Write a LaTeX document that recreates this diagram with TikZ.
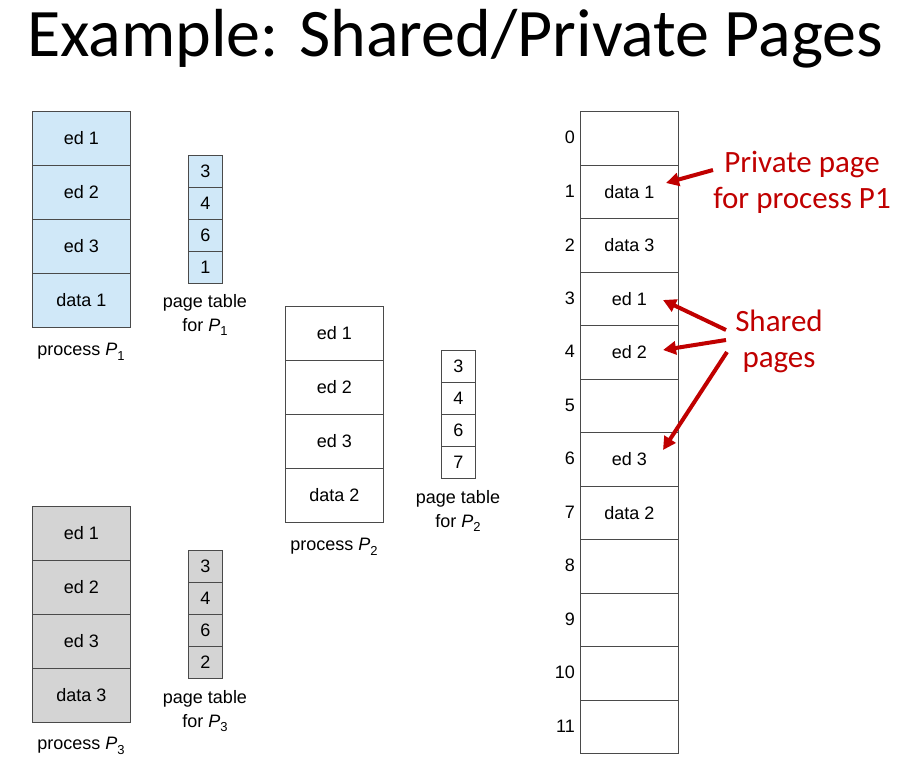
\documentclass[tikz,border=0pt]{standalone}
\usepackage{fontspec}
\setmainfont{Liberation Sans}
\newfontfamily\headfont{Carlito}
\usetikzlibrary{arrows.meta}

\definecolor{procblue}{HTML}{D0E8F8}
\definecolor{procgray}{HTML}{D4D4D4}
\definecolor{framegray}{HTML}{4A4A4A}
\definecolor{noteRed}{HTML}{C00000}

% italic process name with a lowered index, as in the figure
\newcommand{\procname}[1]{\textit{P}\raisebox{-0.5ex}{\fontsize{13}{14}\selectfont #1}}

\begin{document}
\begin{tikzpicture}[x=1pt,y=-1pt,
  pagecell/.style={draw=framegray, line width=0.8pt, minimum width=98pt,
    minimum height=54pt, inner sep=0pt, anchor=north west,
    font=\fontsize{18}{20}\selectfont},
  tabcell/.style={draw=framegray, line width=0.8pt, minimum width=34pt,
    minimum height=32pt, inner sep=0pt, anchor=north west,
    font=\fontsize{18}{20}\selectfont},
  framecell/.style={draw=framegray, line width=0.8pt, minimum width=98pt,
    minimum height=53.5pt, inner sep=0pt, anchor=north west,
    font=\fontsize{18}{20}\selectfont},
  framenum/.style={anchor=east, inner sep=0pt, font=\fontsize{18}{20}\selectfont},
  caption/.style={align=center, inner sep=0pt, font=\fontsize{18}{24}\selectfont},
  note/.style={anchor=base, inner sep=0pt, text=noteRed,
    font=\headfont\fontsize{31}{36}\selectfont},
  pointer/.style={draw=noteRed, line width=4pt,
    -{Triangle[length=13pt,width=13pt]}}
]
\useasboundingbox (0,0) rectangle (902,765);

% heading
\node[anchor=base west, inner sep=0pt, font=\headfont\fontsize{68}{80}\selectfont]
  (title) at (27,57) {Example: Shared/Private Pages};

% process P1 and its page table
\foreach \t [count=\i from 0] in {ed 1, ed 2, ed 3, data 1}
  \node[pagecell, fill=procblue] (pa\i) at (32,111+54*\i) {\t};
\node[caption] (pacap) at (81,352) {process \procname{1}};
\foreach \t [count=\i from 0] in {3,4,6,1}
  \node[tabcell, fill=procblue] (ta\i) at (188,155+32*\i) {\t};
\node[caption] (tacap) at (205,315) {page table\\for \procname{1}};

% process P2 and its page table
\foreach \t [count=\i from 0] in {ed 1, ed 2, ed 3, data 2}
  \node[pagecell, fill=white] (pb\i) at (285,306+54*\i) {\t};
\node[caption] (pbcap) at (334,547) {process \procname{2}};
\foreach \t [count=\i from 0] in {3,4,6,7}
  \node[tabcell, fill=white] (tb\i) at (441,350+32*\i) {\t};
\node[caption] (tbcap) at (458,511) {page table\\for \procname{2}};

% process P3 and its page table
\foreach \t [count=\i from 0] in {ed 1, ed 2, ed 3, data 3}
  \node[pagecell, fill=procgray] (pc\i) at (32,506+54*\i) {\t};
\node[caption] (pccap) at (81,746) {process \procname{3}};
\foreach \t [count=\i from 0] in {3,4,6,2}
  \node[tabcell, fill=procgray] (tc\i) at (188,550+32*\i) {\t};
\node[caption] (tccap) at (205,711) {page table\\for \procname{3}};

% physical memory frames
\foreach \t [count=\i from 0] in {{}, data 1, data 3, ed 1, ed 2, {}, ed 3, data 2, {}, {}, {}, {}} {
  \node[framecell] (f\i) at (580,111+53.5*\i) {\t};
  \node[framenum] (n\i) at (575,111+53.5*\i+26.75) {\i};
}

% annotations
\node[note] (privA) at (802,172) {Private page};
\node[note] (privB) at (802,208) {for process P1};
\node[note] (shrA) at (779,331) {Shared};
\node[note] (shrB) at (779,367) {pages};

\coordinate (privFrom) at (713,170);
\coordinate (privTo)   at (666,183);
\coordinate (shrFromA) at (726,330);
\coordinate (shrFromB) at (726,340);
\coordinate (shrFromC) at (727,352);
\coordinate (shrToA)   at (663,300);
\coordinate (shrToB)   at (663,350);
\coordinate (shrToC)   at (663,450);

\draw[pointer] (privFrom) -- (privTo);
\draw[pointer] (shrFromA) -- (shrToA);
\draw[pointer] (shrFromB) -- (shrToB);
\draw[pointer] (shrFromC) -- (shrToC);
\end{tikzpicture}
\end{document}
